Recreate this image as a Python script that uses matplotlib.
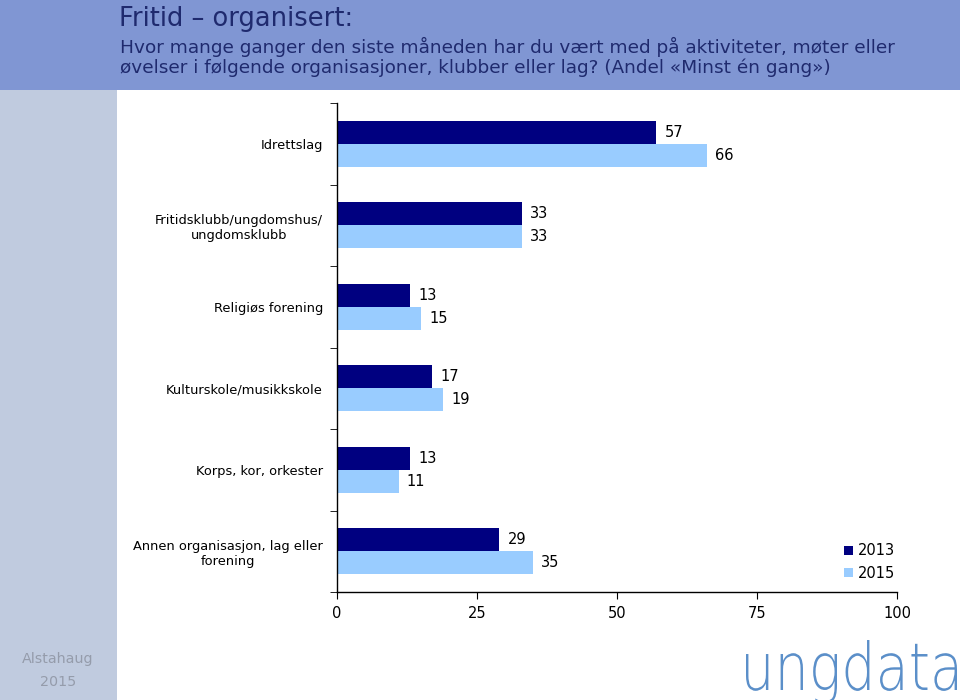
import matplotlib
matplotlib.use("Agg")
import matplotlib.pyplot as plt
from matplotlib.patches import Rectangle, PathPatch
from matplotlib.textpath import TextPath
from matplotlib.font_manager import FontProperties
from matplotlib.transforms import Affine2D, IdentityTransform
import numpy as np

categories = [
    "Idrettslag",
    "Fritidsklubb/ungdomshus/\nungdomsklubb",
    "Religiøs forening",
    "Kulturskole/musikkskole",
    "Korps, kor, orkester",
    "Annen organisasjon, lag eller\nforening",
]
values_2013 = [57, 33, 13, 17, 13, 29]
values_2015 = [66, 33, 15, 19, 11, 35]
series_names = ["2013", "2015"]
xticks = [0, 25, 50, 75, 100]

col_2013 = "#000080"
col_2015 = "#99ccff"
header_col = "#8096d3"
side_col = "#c0cbdf"
title_col = "#1f2a6e"

plt.rcParams['font.family'] = ['DejaVu Sans']

W, H = 960, 700
fig = plt.figure(figsize=(9.6, 7.0), dpi=100)

# background bands
fig.patches.append(Rectangle((0, 1 - 90 / H), 1, 90 / H, transform=fig.transFigure,
                             facecolor=header_col, edgecolor="none", zorder=0))
fig.patches.append(Rectangle((0, 0), 117 / W, 1 - 90 / H, transform=fig.transFigure,
                             facecolor=side_col, edgecolor="none", zorder=0))

fig.text(119 / W, 1 - 19 / H, "Fritid – organisert:", fontsize=18.5, color=title_col,
         ha="left", va="center")
fig.text(120 / W, 1 - 47 / H,
         "Hvor mange ganger den siste måneden har du vært med på aktiviteter, møter eller",
         fontsize=13.3, color=title_col, ha="left", va="center")
fig.text(120 / W, 1 - 68 / H,
         "øvelser i følgende organisasjoner, klubber eller lag? (Andel «Minst én gang»)",
         fontsize=13.3, color=title_col, ha="left", va="center")

fig.text(58 / W, 1 - 659 / H, "Alstahaug", fontsize=10.3, color="#959cab", ha="center", va="center")
fig.text(58 / W, 1 - 682 / H, "2015", fontsize=10.3, color="#959cab", ha="center", va="center")

# "ungdata" logo text, condensed to fit its box
fp = FontProperties(family="DejaVu Sans", weight="light")
tp = TextPath((0, 0), "ungdata", size=1, prop=fp)
ext = tp.get_extents()
sx = (957 - 746) / ext.width
sy = 50 / 0.76
tr = Affine2D().translate(-ext.x0, 0).scale(sx, sy).translate(746, H - 690)
fig.patches.append(PathPatch(tp, transform=tr + IdentityTransform(),
                             facecolor="#5b8fc9", edgecolor="none"))

ax = fig.add_axes([337 / W, 1 - 592 / H, (897 - 337) / W, (592 - 103) / H])
n = len(categories)
y = np.arange(n)
bh = 0.28
ax.barh(y - bh / 2, values_2013, height=bh, color=col_2013, label=series_names[0])
ax.barh(y + bh / 2, values_2015, height=bh, color=col_2015, label=series_names[1])
ax.set_ylim(n - 0.5, -0.5)
ax.set_xlim(0, 100)

for i in range(n):
    ax.annotate(f"{values_2013[i]}", (values_2013[i], y[i] - bh / 2), xytext=(6, 0),
                textcoords="offset points", ha="left", va="center", fontsize=10.5)
    ax.annotate(f"{values_2015[i]}", (values_2015[i], y[i] + bh / 2), xytext=(6, 0),
                textcoords="offset points", ha="left", va="center", fontsize=10.5)

ax.set_yticks(y)
ax.set_yticklabels(categories, fontsize=9.4)
ax.tick_params(axis="y", length=0, pad=10)
ax.set_yticks(np.arange(n + 1) - 0.5, minor=True)
ax.tick_params(axis="y", which="minor", length=5, direction="out")
ax.set_xticks(xticks)
ax.set_xticklabels([str(t) for t in xticks], fontsize=10.5)
ax.tick_params(axis="x", length=5, direction="out", pad=5)
for s in ["top", "right"]:
    ax.spines[s].set_visible(False)
for s in ["left", "bottom"]:
    ax.spines[s].set_linewidth(1.0)

for lbl in ax.get_yticklabels():
    lbl.set_multialignment("center")

leg = ax.legend(loc="upper left", bbox_to_anchor=(500 / 560, 1 - (536 - 103) / 489),
                frameon=False, fontsize=10.5, handlelength=0.6, handleheight=0.6,
                handletextpad=0.35, labelspacing=0.5, borderpad=0)

fig.savefig("out.png", dpi=100)
